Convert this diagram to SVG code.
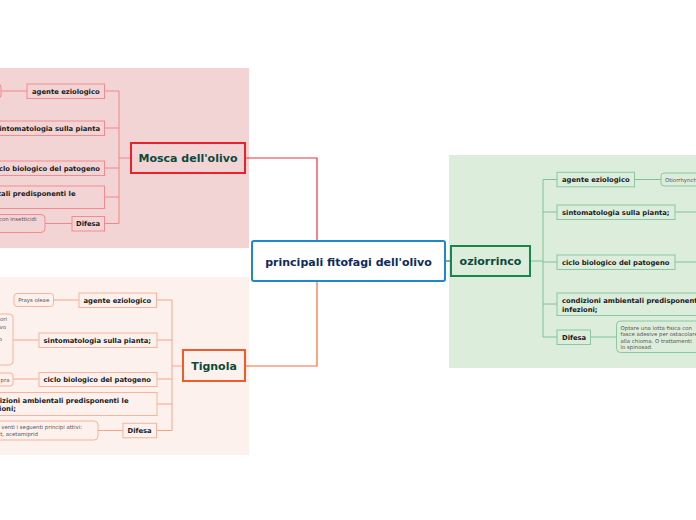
<svg xmlns="http://www.w3.org/2000/svg" width="696" height="520" viewBox="0 0 696 520">
<style>
.t{font-family:"DejaVu Sans",Verdana,sans-serif;font-weight:bold;font-size:6.8px;fill:#1a1a1a}
.m{font-family:"DejaVu Sans",Verdana,sans-serif;font-weight:bold;font-size:11px;fill:#0c4a3a;text-anchor:middle}
.g{font-family:"DejaVu Sans",Verdana,sans-serif;font-size:5.4px;fill:#555}
.sm{fill:#f2d4d4;stroke:#f28b8f;stroke-width:1}
.st{fill:#fcf1ed;stroke:#f7b39b;stroke-width:1}
.so{fill:#ddeddb;stroke:#88c9a1;stroke-width:1}
.cm{fill:none;stroke:#f0868a;stroke-width:1}
.ct{fill:none;stroke:#f9a486;stroke-width:1}
.co{fill:none;stroke:#7cc296;stroke-width:1}
</style>
<rect width="696" height="520" fill="#ffffff"/>
<rect x="0" y="68" width="249" height="180" fill="#f2d4d4"/>
<rect x="0" y="277" width="249" height="178" fill="#fcf1ed"/>
<rect x="449" y="155" width="247" height="213" fill="#ddeddb"/>

<g id="connectors">
<path d="M245,158 H317 V241" fill="none" stroke="#e8353b" stroke-width="1.2"/>
<path d="M317,281 V366 H245" fill="none" stroke="#f26b3a" stroke-width="1.2"/>
<path d="M445,261 H451" fill="none" stroke="#17884a" stroke-width="1.2"/>
<path class="cm" d="M131,158 H119 M119,91 V223.5 M104,91 H119 M104,128 H119 M104,168 H119 M104,197 H119 M104,223.5 H119 M1,91 H27 M45,223.5 H72"/>
<path class="ct" d="M183,366 H172 M172,300 V430.5 M157,300 H172 M157,340 H172 M157,379 H172 M157,404 H172 M157,430.5 H172 M53,300 H79 M13,340 H39 M13,379 H39 M98,430.5 H123"/>
<path class="co" d="M530,261 H543 M543,179.5 V337 M543,179.5 H557 M543,212 H557 M543,262 H557 M543,304 H557 M543,337 H557 M635,179.5 H661 M675,212 H696 M675,262 H696 M591,337 H616"/>
</g>

<g id="root">
<rect x="252" y="241" width="193" height="40" rx="2" fill="#ffffff" stroke="#1e88c8" stroke-width="2"/>
<text x="348.5" y="265.5" font-family="DejaVu Sans,Verdana,sans-serif" font-weight="bold" font-size="11" fill="#102a5a" text-anchor="middle">principali fitofagi dell'olivo</text>
</g>

<g id="mosca">
<rect x="131" y="143" width="114" height="30" fill="#f2d4d4" stroke="#e8232b" stroke-width="2"/>
<text class="m" x="188" y="162">Mosca dell'olivo</text>
</g>
<g id="mosca-agente">
<rect class="sm" x="27" y="84" width="77.5" height="14.5"/>
<text class="t" x="32" y="93.5">agente eziologico</text>
<rect class="sm" x="-20" y="84" width="21" height="14" rx="3"/>
</g>
<g id="mosca-sintomi">
<rect class="sm" x="-20" y="121" width="124.5" height="14.5"/>
<text class="t" x="100" y="130.5" text-anchor="end">sintomatologia sulla pianta</text>
</g>
<g id="mosca-ciclo">
<rect class="sm" x="-20" y="161" width="124.5" height="14.5"/>
<text class="t" x="100" y="170.5" text-anchor="end">ciclo biologico del patogeno</text>
</g>
<g id="mosca-condizioni">
<rect class="sm" x="-20" y="186" width="124.5" height="22.5"/>
<text class="t" x="75.5" y="196" text-anchor="end">condizioni ambientali predisponenti le</text>
</g>
<g id="mosca-difesa">
<rect class="sm" x="72" y="216.5" width="32.5" height="14.5"/>
<text class="t" x="76" y="226">Difesa</text>
<rect class="sm" x="-20" y="214.5" width="65" height="18" rx="4"/>
<text class="g" x="36.5" y="221" text-anchor="end">con insetticidi</text>
</g>

<g id="tignola">
<rect x="183" y="350" width="62" height="31" fill="#fcf1ed" stroke="#f15a29" stroke-width="2"/>
<text class="m" x="214" y="370">Tignola</text>
</g>
<g id="tignola-agente">
<rect class="st" x="79" y="293" width="77.5" height="14.5"/>
<text class="t" x="83.5" y="302.5">agente eziologico</text>
<rect class="st" x="14" y="293.5" width="39.5" height="13" rx="3"/>
<text class="g" x="33.7" y="302" text-anchor="middle">Prays oleae</text>
</g>
<g id="tignola-sintomi">
<rect class="st" x="39" y="333" width="118" height="14.5"/>
<text class="t" x="43.5" y="342.5">sintomatologia sulla pianta;</text>
<rect class="st" x="-20" y="314" width="33" height="51" rx="4"/>
<text class="g" x="7" y="321" text-anchor="end">ori</text>
<text class="g" x="6" y="328.5" text-anchor="end">vo</text>
<text class="g" x="2" y="341" text-anchor="end">o</text>
</g>
<g id="tignola-ciclo">
<rect class="st" x="39" y="372.5" width="118" height="14"/>
<text class="t" x="43.5" y="381.5">ciclo biologico del patogeno</text>
<rect class="st" x="-20" y="373" width="33" height="13" rx="3"/>
<text class="g" x="9.5" y="381.5" text-anchor="end">pra</text>
</g>
<g id="tignola-condizioni">
<rect class="st" x="-20" y="392.5" width="177" height="23"/>
<text class="t" x="128.5" y="403" text-anchor="end">condizioni ambientali predisponenti le</text>
<text class="t" x="16" y="410.5" text-anchor="end">infezioni;</text>
</g>
<g id="tignola-difesa">
<rect class="st" x="123" y="423.3" width="33.5" height="14.5"/>
<text class="t" x="127.5" y="433">Difesa</text>
<rect class="st" x="-20" y="421" width="118" height="19" rx="4"/>
<text class="g" x="82" y="428.8" text-anchor="end">venti i seguenti principi attivi:</text>
<text class="g" x="38" y="436.2" text-anchor="end">t, acetamiprid</text>
</g>

<g id="oziorrinco">
<rect x="451" y="246" width="79" height="30" fill="#ddeddb" stroke="#17884a" stroke-width="2"/>
<text class="m" x="490.5" y="265">oziorrinco</text>
</g>
<g id="ozio-agente">
<rect class="so" x="557" y="172.3" width="77.5" height="14.5"/>
<text class="t" x="562" y="182">agente eziologico</text>
<rect class="so" x="661" y="173" width="45" height="13" rx="3"/>
<text class="g" x="665" y="181.8">Otiorrhynchus</text>
</g>
<g id="ozio-sintomi">
<rect class="so" x="557" y="205" width="118" height="14.5"/>
<text class="t" x="562" y="214.5">sintomatologia sulla pianta;</text>
</g>
<g id="ozio-ciclo">
<rect class="so" x="557" y="255" width="118" height="14.5"/>
<text class="t" x="562" y="264.5">ciclo biologico del patogeno</text>
</g>
<g id="ozio-condizioni">
<rect class="so" x="557" y="293" width="150" height="22.5"/>
<text class="t" x="562" y="302.5">condizioni ambientali predisponenti le</text>
<text class="t" x="562" y="311.5">infezioni;</text>
</g>
<g id="ozio-difesa">
<rect class="so" x="557" y="330" width="33.5" height="14.5"/>
<text class="t" x="562" y="339.5">Difesa</text>
<rect class="so" x="616.5" y="321" width="100" height="31.5" rx="4"/>
<text class="g" x="620.5" y="330">Optare una lotta fisica con</text>
<text class="g" x="620.5" y="336.3">fasce adesive per ostacolare</text>
<text class="g" x="620.5" y="342.6">alla chioma. O trattamenti</text>
<text class="g" x="620.5" y="348.9">lo spinosad.</text>
</g>
</svg>
